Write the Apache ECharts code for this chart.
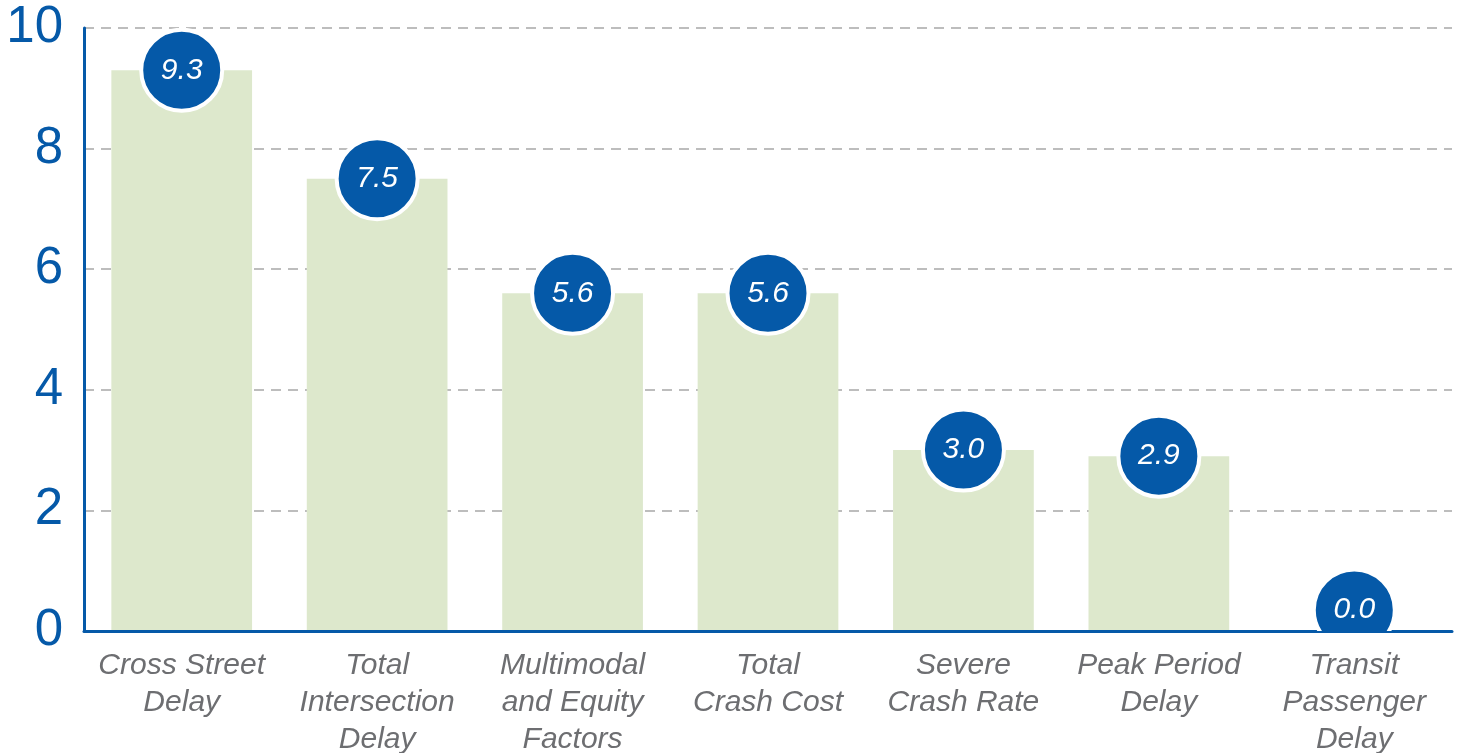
<!DOCTYPE html>
<html>
<head>
<meta charset="utf-8">
<title>Scores by criterion</title>
<script src="https://cdn.jsdelivr.net/npm/echarts@6/dist/echarts.min.js"></script>
<style>
  html, body { margin: 0; padding: 0; background: #ffffff; }
  #chart { width: 1463px; height: 753px; }
</style>
</head>
<body>
<div id="chart"></div>
<script>
// Criteria shown along the horizontal axis
const categories = [
  'Cross Street\nDelay',
  'Total\nIntersection\nDelay',
  'Multimodal\nand Equity\nFactors',
  'Total\nCrash Cost',
  'Severe\nCrash Rate',
  'Peak Period\nDelay',
  'Transit\nPassenger\nDelay'
];
// Score for each criterion
const scores = [9.3, 7.5, 5.6, 5.6, 3.0, 2.9, 0.0];
// Value axis range and step
const yMin = 0;
const yMax = 10;
const yStep = 2;

const BLUE = '#0559a8';
const GREEN = '#dde8cc';
const GREY = '#6d6e71';
const FONT = '"Liberation Sans", Arial, Helvetica, sans-serif';

const chart = echarts.init(document.getElementById('chart'), null, { renderer: 'canvas' });

chart.setOption({
  animation: false,
  backgroundColor: '#ffffff',
  grid: {
    left: 84, right: 11, top: 28, bottom: 122,
    containLabel: false,
    outerBoundsMode: 'none'
  },
  xAxis: {
    type: 'category',
    data: categories,
    z: 3,
    axisLine: { show: true, lineStyle: { color: BLUE, width: 3 } },
    axisTick: { show: false },
    axisLabel: {
      interval: 0,
      margin: 16,
      color: GREY,
      fontFamily: FONT,
      fontStyle: 'italic',
      fontSize: 30,
      lineHeight: 37
    },
    splitLine: { show: false }
  },
  yAxis: {
    type: 'value',
    min: yMin,
    max: yMax,
    interval: yStep,
    axisLine: { show: true, lineStyle: { color: BLUE, width: 3 } },
    axisTick: { show: false },
    axisLabel: {
      margin: 21,
      color: BLUE,
      fontFamily: FONT,
      fontSize: 51
    },
    splitLine: {
      show: true,
      lineStyle: { color: '#a8a8a8', width: 1.5, type: [10, 7] }
    }
  },
  series: [
    {
      name: 'Score',
      type: 'bar',
      data: scores,
      barWidth: '72%',
      itemStyle: { color: GREEN },
      z: 2
    },
    {
      // Value bubbles sitting on each bar top, kept inside the plot area
      name: 'Label',
      type: 'custom',
      clip: true,
      z: 4,
      data: scores.map((v, i) => [i, v]),
      renderItem: function (params, api) {
        const pt = api.coord([api.value(0), api.value(1)]);
        const cs = params.coordSys;
        const cy = Math.min(pt[1], cs.y + cs.height - 21);
        const cx = pt[0];
        return {
          type: 'group',
          children: [
            {
              type: 'circle',
              shape: { cx: cx, cy: cy, r: 40.5 },
              style: { fill: BLUE, stroke: '#ffffff', lineWidth: 4 }
            },
            {
              type: 'text',
              x: cx,
              y: cy,
              style: {
                text: api.value(1).toFixed(1),
                fill: '#ffffff',
                font: 'italic 30px ' + FONT,
                align: 'center',
                verticalAlign: 'middle'
              }
            }
          ]
        };
      }
    }
  ]
});
</script>
</body>
</html>
